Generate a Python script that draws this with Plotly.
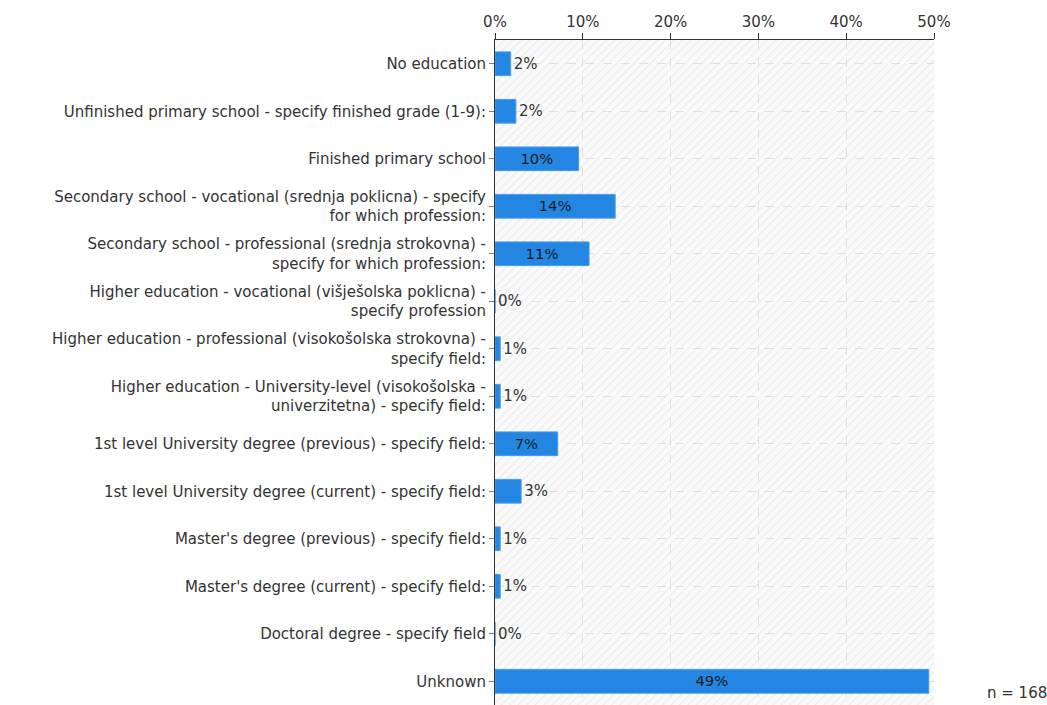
import base64
import plotly.graph_objects as go

# Survey: highest completed education level
categories = [
    "No education",
    "Unfinished primary school - specify finished grade (1-9):",
    "Finished primary school",
    "Secondary school - vocational (srednja poklicna) - specify<br>for which profession:",
    "Secondary school - professional (srednja strokovna) -<br>specify for which profession:",
    "Higher education - vocational (višješolska poklicna) -<br>specify profession",
    "Higher education - professional (visokošolska strokovna) -<br>specify field:",
    "Higher education - University-level (visokošolska -<br>univerzitetna) - specify field:",
    "1st level University degree (previous) - specify field:",
    "1st level University degree (current) - specify field:",
    "Master's degree (previous) - specify field:",
    "Master's degree (current) - specify field:",
    "Doctoral degree - specify field",
    "Unknown",
]
counts = [3, 4, 16, 23, 18, 0, 1, 1, 12, 5, 1, 1, 0, 83]
n_total = 168
x_ticks = [0, 10, 20, 30, 40, 50]
x_tick_labels = ["0%", "10%", "20%", "30%", "40%", "50%"]

percent = [c / n_total * 100 for c in counts]
labels = [f"{round(p)}%" for p in percent]
positions = ["inside" if p >= 5 else "outside" for p in percent]

BAR = "#2486e3"
FONT = "DejaVu Sans"
SIZE = 15

fig = go.Figure(
    go.Bar(
        x=percent,
        y=categories,
        orientation="h",
        width=0.5,
        marker=dict(color=BAR, line=dict(color="#4a9ded", width=1)),
        text=labels,
        textposition=positions,
        insidetextanchor="middle",
        textfont=dict(family=FONT, size=SIZE, color="#222222"),
        outsidetextfont=dict(family=FONT, size=SIZE, color="#333333"),
        insidetextfont=dict(family=FONT, size=SIZE, color="#1a1a1a"),
        cliponaxis=False,
        hoverinfo="skip",
    )
)

# light diagonal hatching behind the plot area
hatch_svg = (
    '<svg xmlns="http://www.w3.org/2000/svg" width="439" height="665">'
    '<defs><pattern id="h" width="6" height="6" patternUnits="userSpaceOnUse" '
    'patternTransform="rotate(45)">'
    '<line x1="0" y1="0" x2="0" y2="6" stroke="#ececec" stroke-width="2.5"/>'
    '</pattern></defs>'
    '<rect width="100%" height="100%" fill="#fbfbfb"/>'
    '<rect width="100%" height="100%" fill="url(#h)"/></svg>'
)
hatch_uri = "data:image/svg+xml;base64," + base64.b64encode(hatch_svg.encode()).decode()

fig.update_layout(
    width=1047,
    height=705,
    margin=dict(l=495, r=113, t=40, b=0),
    paper_bgcolor="white",
    plot_bgcolor="rgba(0,0,0,0)",
    showlegend=False,
    font=dict(family=FONT, size=SIZE, color="#333333"),
    bargap=0.5,
    images=[
        dict(
            source=hatch_uri,
            xref="paper",
            yref="paper",
            x=0,
            y=1,
            sizex=1,
            sizey=1,
            sizing="stretch",
            layer="below",
        )
    ],
    xaxis=dict(
        side="top",
        range=[0, 50],
        tickvals=x_ticks,
        ticktext=x_tick_labels,
        showline=True,
        linecolor="#333333",
        linewidth=1,
        ticks="outside",
        ticklen=6,
        tickcolor="#333333",
        showgrid=True,
        gridcolor="#dedede",
        griddash="dash",
        zeroline=False,
        tickfont=dict(family=FONT, size=SIZE, color="#333333"),
        fixedrange=True,
    ),
    yaxis=dict(
        autorange="reversed",
        showline=True,
        linecolor="#333333",
        linewidth=1,
        ticks="outside",
        ticklen=5,
        tickcolor="#777777",
        showgrid=True,
        gridcolor="#dedede",
        griddash="dash",
        tickfont=dict(family=FONT, size=SIZE, color="#333333"),
        fixedrange=True,
    ),
    annotations=[
        dict(
            text=f"n = {n_total}",
            xref="paper",
            yref="paper",
            x=1.116,
            y=0.018,
            xanchor="left",
            yanchor="middle",
            showarrow=False,
            font=dict(family=FONT, size=SIZE, color="#333333"),
        )
    ],
)

fig.write_html("out.html")
